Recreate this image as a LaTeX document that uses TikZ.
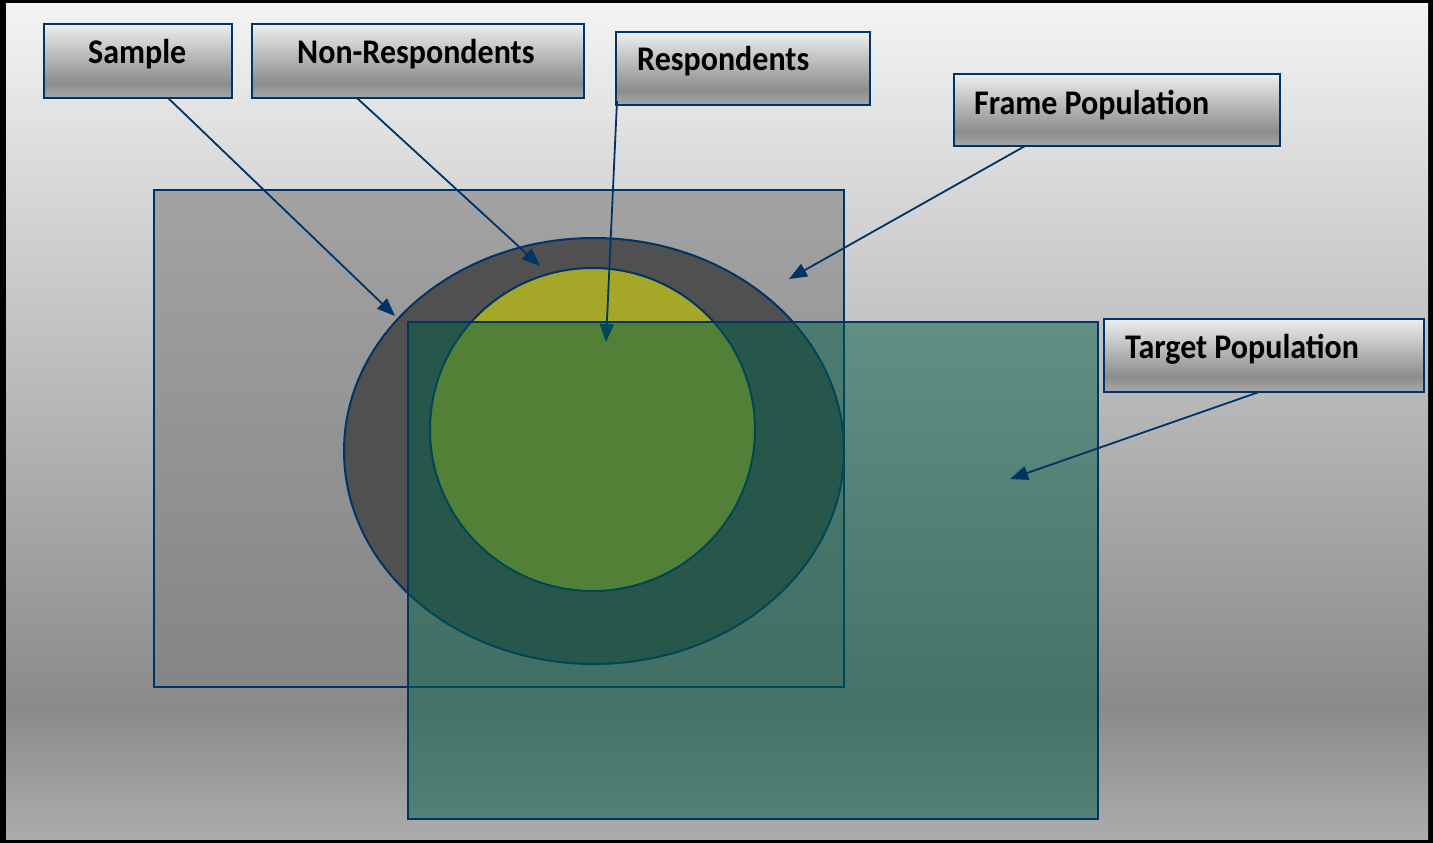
\documentclass[tikz,border=0pt]{standalone}
\usepackage{fontspec}
\setmainfont{Carlito}
\usetikzlibrary{arrows.meta,calc,shapes.geometric}
\definecolor{navy}{RGB}{0,51,102}
\definecolor{ellgray}{RGB}{80,80,80}
\definecolor{olivefill}{RGB}{166,166,40}
\definecolor{tealfill}{RGB}{0,92,70}
\definecolor{framegray}{RGB}{128,128,128}
\definecolor{bgbot}{RGB}{172,172,172}
\definecolor{bgdark}{RGB}{138,138,138}
\definecolor{bgtop}{RGB}{243,243,243}
\definecolor{bxbot}{RGB}{168,168,168}
\definecolor{bxdark}{RGB}{140,140,140}
\definecolor{bxtop}{RGB}{238,238,238}
\pgfdeclareverticalshading{bgshade}{100bp}{color(0bp)=(bgbot); color(25bp)=(bgbot); color(33bp)=(bgdark); color(75bp)=(bgtop); color(100bp)=(bgtop)}
\pgfdeclareverticalshading{boxshade}{100bp}{color(0bp)=(bxbot); color(25bp)=(bxbot); color(35bp)=(bxdark); color(75bp)=(bxtop); color(100bp)=(bxtop)}
\tikzset{
  labelbox/.style={draw=navy, line width=2pt, shading=boxshade, inner sep=0pt, outer sep=0pt},
  lbl/.style={font=\fontsize{32}{38}\selectfont\bfseries, text=black, inner sep=0pt, anchor=base west, yscale=1.08},
  conn/.style={draw=navy, line width=1.8pt, -{Triangle[length=18pt,width=14pt]}},
  regionrect/.style={draw=navy, line width=2pt, rectangle, inner sep=0pt, outer sep=0pt},
}
\begin{document}
\begin{tikzpicture}[x=1pt,y=-1pt]
\useasboundingbox (0,0) rectangle (1433,843);
\fill[black] (0,0) rectangle (1433,843);
\shade[shading=bgshade] (6,4) rectangle (1428,839);

% frame population rectangle
\node[regionrect, fill=framegray, fill opacity=0.6, draw opacity=1, minimum width=690pt, minimum height=497pt] (framepop) at (499,438.5) {};
% sample ellipse
\node[ellipse, draw=navy, line width=2pt, fill=ellgray, inner sep=0pt, minimum width=500pt, minimum height=426pt] (sampleell) at (594,451) {};
% respondents circle
\node[ellipse, draw=navy, line width=2pt, fill=olivefill, inner sep=0pt, minimum width=325pt, minimum height=323pt] (respcirc) at (592.5,429.5) {};

% label boxes
\node[labelbox, minimum width=188pt, minimum height=74pt] (sample) at (138,61) {};
\node[lbl] (sampleT) at (88,64) {Sample};
\node[labelbox, minimum width=332pt, minimum height=74pt] (nonresp) at (418,61) {};
\node[lbl] (nonrespT) at (297,64) {Non-Respondents};
\node[labelbox, minimum width=254pt, minimum height=73pt] (resp) at (743,68.5) {};
\node[lbl] (respT) at (637,70.5) {Respondents};
\node[labelbox, minimum width=326pt, minimum height=72pt] (frame) at (1117,110) {};
\node[lbl] (frameT) at (974,114) {Frame Population};

% arrow ends
\coordinate (sampleEnd) at (395,316);
\coordinate (nonrespEnd) at (540,266);
\coordinate (respEnd) at (606,342);
\coordinate (frameEnd) at (789,279);
\coordinate (targetEnd) at (1010,479);

\draw[conn] ($(sample.south west)!0.66!(sample.south east)$) -- (sampleEnd);
\draw[conn] ($(nonresp.south west)!0.316!(nonresp.south east)$) -- (nonrespEnd);
\draw[conn] ([xshift=1pt,yshift=4pt]resp.south west) -- (respEnd);
\draw[conn] ($(frame.south west)!0.218!(frame.south east)$) -- (frameEnd);

% target population rectangle
\node[regionrect, fill=tealfill, fill opacity=0.5, draw opacity=1, minimum width=690pt, minimum height=497pt] (targetpop) at (753,570.5) {};

\node[labelbox, minimum width=320pt, minimum height=73pt] (target) at (1264,355) {};
\node[lbl] (targetT) at (1125,358.5) {Target Population};
\draw[conn] ($(target.south west)!0.489!(target.south east)$) -- (targetEnd);
\end{tikzpicture}
\end{document}
